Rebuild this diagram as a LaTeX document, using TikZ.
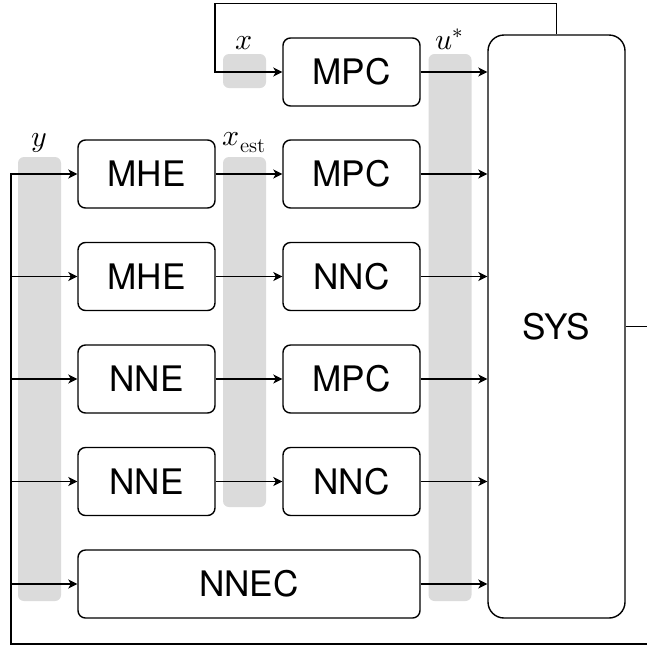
\documentclass[tikz,border=0pt]{standalone}
\usepackage{fontspec}
\usepackage{unicode-math}
\setsansfont{TeX Gyre Heros}
\setmathfont{Latin Modern Math}
\usetikzlibrary{arrows.meta}

\begin{document}
\begin{tikzpicture}[
		line width=0.8pt,
		>={Stealth[length=1.8mm,width=1.8mm,inset=0.5mm]},
		block/.style={draw, rounded corners=0.15cm, minimum width=2.74cm, minimum height=1.36cm, inner sep=0pt, font=\sffamily\fontsize{20}{24}\selectfont},
		bar/.style={fill=black!14, rounded corners=0.12cm, minimum width=0.86cm, inner sep=0pt},
		lbl/.style={anchor=south, inner sep=1.5pt, font=\fontsize{17}{20}\selectfont}
	]
				\useasboundingbox (0,0) rectangle (12.94,-12.92);
				\clip (0,0) rectangle (12.94,-12.92);
				% signal bars
				\node[bar, minimum height=0.68cm] (xbar) at (4.89,-1.42) {};
				\node[bar, minimum height=7cm] (xestbar) at (4.89,-6.64) {};
				\node[bar, minimum height=10.94cm] (ubar) at (9.0,-6.55) {};
				\node[bar, minimum height=8.88cm] (ybar) at (0.79,-7.58) {};
				\node[lbl] (xlbl) at (xbar.north) {$x$};
				\node[lbl] (xestlbl) at (xestbar.north) {$x_{\mathrm{est}}$};
				\node[lbl] (ulbl) at (ubar.north) {$u^*$};
				\node[lbl] (ylbl) at (ybar.north) {$y$};
				% blocks
				\node[block] (mpc0) at (7.03,-1.44) {MPC};
				\node[block] (mhe1) at (2.93,-3.48) {MHE};
				\node[block] (mpc1) at (7.03,-3.48) {MPC};
				\node[block] (mhe2) at (2.93,-5.53) {MHE};
				\node[block] (nnc2) at (7.03,-5.53) {NNC};
				\node[block] (nne3) at (2.93,-7.58) {NNE};
				\node[block] (mpc3) at (7.03,-7.58) {MPC};
				\node[block] (nne4) at (2.93,-9.63) {NNE};
				\node[block] (nnc4) at (7.03,-9.63) {NNC};
				\node[block, minimum width=6.84cm] (nnec) at (4.98,-11.68) {NNEC};
				\node[block, rounded corners=0.32cm, minimum height=11.66cm] (sys) at (11.13,-6.53) {SYS};
				% connections
				\foreach \a/\b in {mhe1/mpc1, mhe2/nnc2, nne3/mpc3, nne4/nnc4}
					\draw[->] (\a) -- (\b);
				\foreach \a in {mpc0, mpc1, nnc2, mpc3, nnc4, nnec}
					\draw[->] (\a.east) -- (\a.east -| sys.west);
				% feedback
				\coordinate (fbl) at (0.22,-12.88);
				\coordinate (fbr) at (13.2,-12.88);
				\coordinate (fbtop) at (4.3,-0.07);
				\draw[->] (sys.east) -| (fbr) -- (fbl) |- (mhe1.west);
				\foreach \b in {mhe2, nne3, nne4, nnec}
					\draw[->] (fbl |- \b.west) -- (\b.west);
				\draw[->] (sys.north) |- (fbtop) |- (mpc0.west);
			\end{tikzpicture}
\end{document}
